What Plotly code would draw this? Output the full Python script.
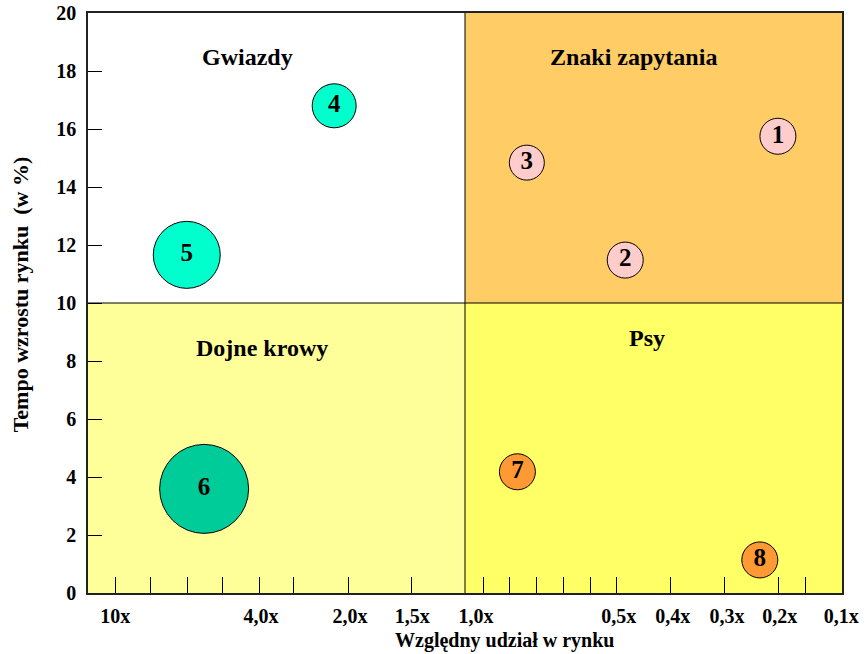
import plotly.graph_objects as go

# Portfolio (BCG) matrix: relative market share vs. market growth rate
bubble_ids = ["1", "2", "3", "4", "5", "6", "7", "8"]
share_pos = [18.30, 14.25, 11.64, 6.53, 2.62, 3.08, 11.39, 17.82]   # position on the share axis
growth = [15.75, 11.48, 14.84, 16.80, 11.66, 3.59, 4.18, 1.14]       # market growth, %
bubble_size = [36, 36, 35, 44, 67, 89, 36, 36]                       # marker diameter
bubble_color = ["#FFCCCC", "#FFCCCC", "#FFCCCC", "#00FFCC", "#00FFCC",
                "#00CC99", "#FF9933", "#FF9933"]

share_label_pos = [0.72, 4.59, 6.95, 8.60, 10.29, 14.08, 15.51, 16.95, 18.35, 19.98]
share_labels = ["10x", "4,0x", "2,0x", "1,5x", "1,0x", "0,5x", "0,4x", "0,3x", "0,2x", "0,1x"]
share_tick_pos = [0.72, 1.67, 2.63, 3.58, 4.54, 5.46, 6.90, 8.57,
                  10.48, 11.18, 11.90, 12.61, 13.32, 14.02, 15.46, 16.88, 18.31, 19.02]
growth_ticks = [0, 2, 4, 6, 8, 10, 12, 14, 16, 18, 20]

quadrant_names = ["Gwiazdy", "Znaki zapytania", "Dojne krowy", "Psy"]
quadrant_x = [4.24, 14.48, 4.62, 14.83]
quadrant_y = [18.48, 18.48, 8.45, 8.79]
quadrant_fill = ["#FFFFFF", "#FFCC66", "#FFFF99", "#FFFF66"]
quadrant_box = [(0, 10, 10, 20), (10, 10, 20, 20), (0, 0, 10, 10), (10, 0, 20, 10)]

FONT = "Liberation Serif"
bold = lambda size: dict(family=FONT, size=size, color="black", weight="bold")

fig = go.Figure()
fig.add_trace(go.Scatter(
    x=share_pos, y=growth, mode="markers+text", text=bubble_ids,
    textposition="middle center", textfont=bold(25),
    marker=dict(size=bubble_size, color=bubble_color, opacity=1,
                line=dict(color="black", width=1)),
    hoverinfo="skip", showlegend=False, cliponaxis=False,
))
# tick-mark axis shares the plot but carries only the short inner ticks
fig.add_trace(go.Scatter(x=[None], y=[None], xaxis="x2", yaxis="y",
                         showlegend=False, hoverinfo="skip"))

shapes = []
for (x0, y0, x1, y1), c in zip(quadrant_box, quadrant_fill):
    shapes.append(dict(type="rect", xref="x", yref="y", x0=x0, y0=y0, x1=x1, y1=y1,
                       fillcolor=c, line=dict(width=0), layer="below"))
shapes.append(dict(type="line", xref="x", yref="y", x0=10, x1=10, y0=0, y1=20,
                   line=dict(color="black", width=1), layer="below"))
shapes.append(dict(type="line", xref="x", yref="y", x0=0, x1=20, y0=10, y1=10,
                   line=dict(color="black", width=1), layer="below"))

annotations = [dict(x=qx, y=qy, xref="x", yref="y", text=name, showarrow=False,
                    font=bold(24))
               for name, qx, qy in zip(quadrant_names, quadrant_x, quadrant_y)]
# axis titles
annotations.append(dict(x=0.552, y=0, xref="paper", yref="paper", yanchor="middle",
                        yshift=-47, text="Względny udział w rynku", showarrow=False,
                        font=bold(20)))
annotations.append(dict(x=0, y=0.515, xref="paper", yref="paper", xanchor="center",
                        xshift=-68, text="Tempo wzrostu rynku  (w %)", showarrow=False,
                        textangle=-90, font=bold(22)))

fig.update_layout(
    width=865, height=654,
    margin=dict(l=88, r=23, t=13, b=61),
    paper_bgcolor="white", plot_bgcolor="white",
    shapes=shapes, annotations=annotations,
    xaxis=dict(range=[0, 20], tickmode="array", tickvals=share_label_pos,
               ticktext=share_labels, ticks="", showgrid=False, zeroline=False,
               showline=True, mirror=True, linecolor="#222222", linewidth=1.5,
               tickfont=bold(20), ticklabelstandoff=4, automargin=False),
    xaxis2=dict(range=[0, 20], overlaying="x", side="bottom", anchor="y",
                tickmode="array", tickvals=share_tick_pos, ticks="inside",
                ticklen=16, tickwidth=1, tickcolor="black", showticklabels=False,
                showgrid=False, zeroline=False, showline=False, automargin=False),
    yaxis=dict(range=[0, 20], tickmode="array", tickvals=growth_ticks,
               ticks="inside", ticklen=14, tickwidth=1, tickcolor="black",
               showgrid=False, zeroline=False, showline=True, mirror=True,
               linecolor="#222222", linewidth=1.5, ticklabelstandoff=6,
               tickfont=bold(20), automargin=False),
)

fig.write_html("out.html")
